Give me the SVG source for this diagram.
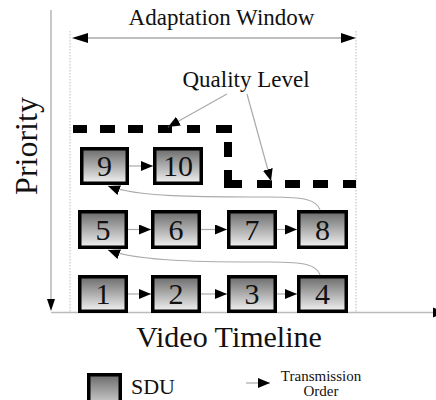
<svg xmlns="http://www.w3.org/2000/svg" width="436" height="400" viewBox="0 0 436 400" font-family="'Liberation Serif', 'DejaVu Serif', 'Times New Roman', serif">
<defs>
<linearGradient id="g" x1="0" y1="0" x2="0" y2="1">
<stop offset="0" stop-color="#6a6a6a"/>
<stop offset="1" stop-color="#f2f2f2"/>
</linearGradient>
<marker id="ah" viewBox="0 0 12 10" refX="12" refY="5" markerWidth="12" markerHeight="10" markerUnits="userSpaceOnUse" orient="auto">
<path d="M0,0 L12,5 L0,10 Z" fill="#000"/>
</marker>
</defs>
<style>
text{font-family:'Liberation Serif','DejaVu Serif','Times New Roman',serif;fill:#111}
.box rect{fill:url(#g);stroke:#000;stroke-width:3.5}
.box text{font-size:30px;text-anchor:middle}
.con{fill:none;stroke:#aaa;stroke-width:1.2}
.axis{fill:none;stroke:#bbb;stroke-width:1.6}
.dot{fill:none;stroke:#bbb;stroke-width:1;stroke-dasharray:1.5 1.5}
.ql{fill:none;stroke:#000;stroke-width:8}
</style>

<!-- axes -->
<g id="axes">
<line class="axis" x1="51" y1="10" x2="51" y2="302"/>
<path d="M47,299 L55,299 L51,311 Z" fill="#000"/>
<line class="axis" x1="51" y1="312.5" x2="436" y2="312.5"/>
<path d="M433,307.5 L445,312.5 L433,317.5 Z" fill="#000"/>
<text x="37" y="146" font-size="32" text-anchor="middle" transform="rotate(-90 37 146)">Priority</text>
<text x="229" y="347" font-size="30" text-anchor="middle">Video Timeline</text>
</g>

<!-- adaptation window -->
<g id="window">
<line class="dot" x1="70" y1="31" x2="70" y2="312"/>
<line class="dot" x1="356" y1="31" x2="356" y2="312"/>
<line x1="86" y1="38" x2="342" y2="38" stroke="#aaa" stroke-width="1.5"/>
<path d="M72,38 L88,33 L88,43 Z" fill="#000"/>
<path d="M356,38 L341,33 L341,43 Z" fill="#000"/>
<text x="221.5" y="25" font-size="23" text-anchor="middle">Adaptation Window</text>
</g>

<!-- quality level -->
<g id="quality">
<path class="ql" d="M73,129 H87 M100,129 H115 M128,129 H143 M158,129 H172 M187,129 H200 M216,129 H232 M228,142 V157 M228,170 V184 H242 M257,184 H272 M285,184 H300 M313,184 H328 M343,184 H356"/>
<text x="246" y="87" font-size="23" text-anchor="middle">Quality Level</text>
<line class="con" x1="227" y1="94" x2="168" y2="127" marker-end="url(#ah)"/>
<line class="con" x1="247" y1="94" x2="271" y2="181" marker-end="url(#ah)"/>
</g>

<!-- nodes -->
<g id="n9" class="box"><rect x="81.75" y="148.75" width="45.5" height="34.5"/><text x="104.5" y="176">9</text></g>
<g id="n10" class="box"><rect x="154.75" y="148.75" width="46.5" height="34.5"/><text x="178" y="176">10</text></g>
<g id="n5" class="box"><rect x="79.75" y="211.75" width="46.5" height="35.5"/><text x="103" y="240">5</text></g>
<g id="n6" class="box"><rect x="152.75" y="211.75" width="46.5" height="35.5"/><text x="176" y="240">6</text></g>
<g id="n7" class="box"><rect x="228.75" y="211.75" width="46.5" height="35.5"/><text x="252" y="240">7</text></g>
<g id="n8" class="box"><rect x="298.75" y="211.75" width="47.5" height="35.5"/><text x="322.5" y="240">8</text></g>
<g id="n1" class="box"><rect x="79.75" y="276.75" width="46.5" height="34.5"/><text x="103" y="304">1</text></g>
<g id="n2" class="box"><rect x="152.75" y="276.75" width="46.5" height="34.5"/><text x="176" y="304">2</text></g>
<g id="n3" class="box"><rect x="228.75" y="276.75" width="46.5" height="34.5"/><text x="252" y="304">3</text></g>
<g id="n4" class="box"><rect x="298.75" y="276.75" width="47.5" height="34.5"/><text x="322.5" y="304">4</text></g>

<!-- connectors -->
<g id="connectors">
<line class="con" x1="129" y1="166" x2="153" y2="166" marker-end="url(#ah)"/>
<line class="con" x1="128" y1="229.5" x2="151" y2="229.5" marker-end="url(#ah)"/>
<line class="con" x1="201" y1="229.5" x2="227" y2="229.5" marker-end="url(#ah)"/>
<line class="con" x1="277" y1="229.5" x2="297" y2="229.5" marker-end="url(#ah)"/>
<line class="con" x1="128" y1="294" x2="151" y2="294" marker-end="url(#ah)"/>
<line class="con" x1="201" y1="294" x2="227" y2="294" marker-end="url(#ah)"/>
<line class="con" x1="277" y1="294" x2="297" y2="294" marker-end="url(#ah)"/>
<path class="con" d="M320,210 C317,200 305,197 270,197 C210,197 140,198 108,186" marker-end="url(#ah)"/>
<path class="con" d="M320,275 C317,265 305,262 270,262 C210,262 140,262 108,250" marker-end="url(#ah)"/>
</g>

<!-- legend -->
<g id="legend">
<g id="legend-sdu" class="box"><rect x="88.75" y="374.75" width="31.5" height="40"/></g>
<text x="131" y="394" font-size="22">SDU</text>
<line class="con" x1="246" y1="383" x2="270" y2="383" marker-end="url(#ah)"/>
<text x="321" y="381" font-size="15" text-anchor="middle">Transmission</text>
<text x="321" y="396" font-size="15" text-anchor="middle">Order</text>
</g>
</svg>
